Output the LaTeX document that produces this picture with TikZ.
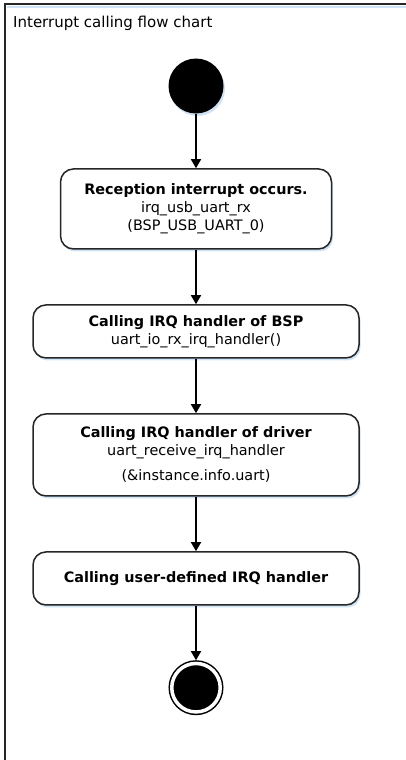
\documentclass[tikz,border=0pt]{standalone}
\usepackage{fontspec}
\setmainfont{DejaVu Sans}
\usetikzlibrary{positioning,arrows.meta,shadows}
\definecolor{shadowblue}{RGB}{208,226,245}
\newcommand\boxWidth{326}
\newcommand\nodeGap{54.5}
\newcommand\centerX{196}

\tikzset{
  actbox/.style={draw=black!85, line width=1.5pt, fill=white, rounded corners=13pt,
    align=center, minimum width=\boxWidth pt, minimum height=53pt, inner sep=0pt,
    font=\fontsize{14.4}{18}\selectfont,
    drop shadow={shadow xshift=1.5pt, shadow yshift=-2.5pt, fill=shadowblue, opacity=1}},
  startdot/.style={circle, fill=black, minimum size=55pt, inner sep=0pt,
    drop shadow={shadow xshift=1.5pt, shadow yshift=-2.5pt, fill=shadowblue, opacity=1}},
  finaldot/.style={circle, fill=black, draw=black, line width=1.5pt, double=white,
    double distance=3.5pt, minimum size=48.5pt, inner sep=0pt, outer sep=3.25pt},
  flow/.style={line width=1.6pt, -{Triangle[width=10pt,length=9pt]}}
}

\begin{document}
\begin{tikzpicture}[x=1pt,y=1pt]
    \useasboundingbox (0,0) rectangle (406,-760);
    % frame
    \draw[shadowblue, line width=2pt] (7,-7) -- (406,-7);
    \draw[black!85, line width=2pt] (5,-760) -- (5,-4) -- (406,-4);
    \node[anchor=west, inner sep=0pt, font=\fontsize{15}{18}\selectfont] (title) at (13,-23) {Interrupt calling flow chart};

    \node[startdot] (start) at (\centerX,-86) {};
    \node[actbox, minimum width=271pt, minimum height=80pt, below=\nodeGap pt of start] (recv)
      {\textbf{Reception interrupt occurs.}\\irq\_usb\_uart\_rx\\(BSP\_USB\_UART\_0)};
    \node[actbox, below=\nodeGap pt of recv] (bsp)
      {\textbf{Calling IRQ handler of BSP}\\uart\_io\_rx\_irq\_handler()};
    \node[actbox, minimum height=82pt, below=\nodeGap pt of bsp] (drv)
      {\textbf{Calling IRQ handler of driver}\\uart\_receive\_irq\_handler\\[7pt](\&instance.info.uart)};
    \node[actbox, below=\nodeGap pt of drv] (user)
      {\textbf{Calling user-defined IRQ handler}};
    \node[finaldot, below=\nodeGap pt of user] (final) {};

    \foreach \a/\b in {start/recv, recv/bsp, bsp/drv, drv/user, user/final}{
      \draw[flow] (\a) -- (\b);
    }
\end{tikzpicture}
\end{document}
